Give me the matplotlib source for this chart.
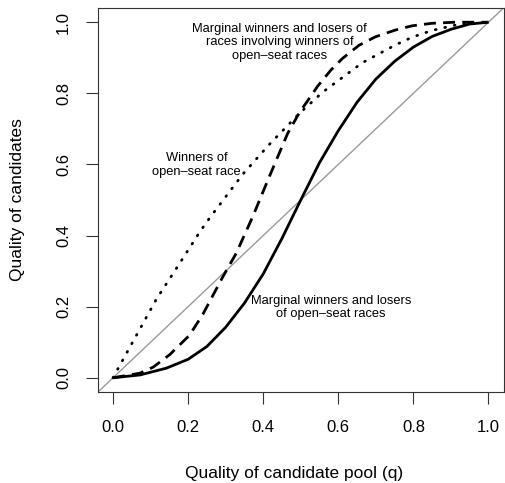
import matplotlib
matplotlib.use("Agg")
import matplotlib.pyplot as plt

# quality of candidate pool (q) and the curves
q_marginal = [0, 0.072, 0.142, 0.2, 0.25, 0.3, 0.35, 0.4, 0.45, 0.5,
              0.55, 0.6, 0.65, 0.7, 0.75, 0.8, 0.85, 0.9, 0.95, 1.0]
y_marginal = [0, 0.008, 0.027, 0.052, 0.088, 0.142, 0.21, 0.292, 0.392, 0.5,
              0.605, 0.695, 0.775, 0.84, 0.89, 0.93, 0.96, 0.98, 0.995, 1.0]

q_winners = [0, 0.014, 0.06, 0.116, 0.169, 0.231, 0.257, 0.346, 0.416, 0.496, 0.558,
             0.664, 0.752, 0.797, 0.85, 0.912, 1.0]
y_winners = [0, 0.027, 0.115, 0.222, 0.308, 0.41, 0.449, 0.573, 0.656, 0.743, 0.803,
             0.886, 0.936, 0.958, 0.977, 0.992, 1.0]

q_involving = [0, 0.072, 0.107, 0.151, 0.204, 0.24, 0.293, 0.328, 0.372, 0.416, 0.465,
               0.496, 0.545, 0.58, 0.611, 0.655, 0.699, 0.752, 0.797, 0.85, 0.91, 1.0]
y_involving = [0, 0.013, 0.03, 0.065, 0.12, 0.18, 0.285, 0.35, 0.453, 0.565, 0.687,
               0.745, 0.82, 0.865, 0.898, 0.935, 0.959, 0.978, 0.99, 0.997, 1.0, 1.0]

ticks = [0.0, 0.2, 0.4, 0.6, 0.8, 1.0]
tick_labels = ["0.0", "0.2", "0.4", "0.6", "0.8", "1.0"]

plt.rcParams['font.family'] = ['Liberation Sans', 'DejaVu Sans']

fig = plt.figure(figsize=(5.05, 4.83), dpi=100)
ax = fig.add_axes([98 / 505, 91 / 483, 405.5 / 505, 384 / 483])

# 45 degree reference line
ax.axline((0, 0), (1, 1), color="#9a9a9a", lw=1.0, zorder=1)

ax.plot(q_marginal, y_marginal, color="black", lw=2.0, solid_capstyle="butt")
ax.plot(q_involving, y_involving, color="black", lw=2.0,
        linestyle=(0, (4.3, 2.6)), dash_capstyle="butt")
ax.plot(q_winners, y_winners, color="black", lw=2.0,
        linestyle=(0, (0.3, 3.2)), dash_capstyle="round")

ax.text(0.443, 0.943, "Marginal winners and losers of\nraces involving winners of\nopen\u2013seat races",
        ha="center", va="center", fontsize=9.3, linespacing=1.15)
ax.text(0.222, 0.598, "Winners of\nopen\u2013seat race",
        ha="center", va="center", fontsize=9.3, linespacing=1.15)
ax.text(0.58, 0.197, "Marginal winners and losers\nof open\u2013seat races",
        ha="center", va="center", fontsize=9.3, linespacing=1.15)

ax.set_xlim(-0.04, 1.04)
ax.set_ylim(-0.04, 1.04)
ax.set_xticks(ticks)
ax.set_xticklabels(tick_labels)
ax.set_yticks(ticks)
ax.set_yticklabels(tick_labels, rotation=90, va="center")
ax.tick_params(axis="both", labelsize=12, length=8.5, width=0.8, color="#333333")
ax.tick_params(axis="x", pad=12)
ax.tick_params(axis="y", pad=11)
for s in ax.spines.values():
    s.set_linewidth(0.8)
    s.set_color("#333333")

ax.set_xlabel("Quality of candidate pool (q)", fontsize=12.5)
ax.set_ylabel("Quality of candidates", fontsize=12.5)
ax.xaxis.label.set_va("center")
ax.yaxis.label.set_va("center")
ax.xaxis.set_label_coords(0.484, -0.212)
ax.yaxis.set_label_coords(-0.199, 0.5)

fig.savefig("out.png", dpi=100)
